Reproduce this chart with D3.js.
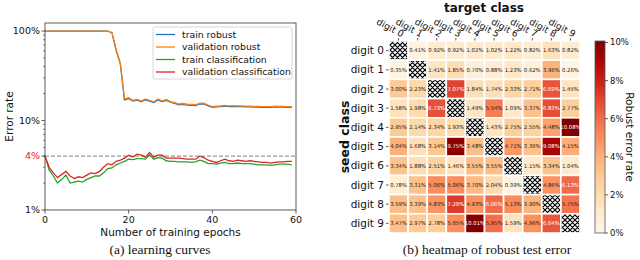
<!DOCTYPE html>
<html>
<head>
<meta charset="utf-8">
<script src="https://cdn.jsdelivr.net/npm/d3@7"></script>
<style>
  body { margin: 0; background: #fff; }
  svg { display: block; font-family: "DejaVu Sans", sans-serif; }
</style>
</head>
<body>
<svg id="chart" width="640" height="260"></svg>
<script>
// ---- data: learning curves (error rate, fraction) ----
const epochs = d3.range(0, 60);
const valRobust = [1,1,1,1,1,1,1,1,1,1,1,1,1,1,1,1,0.96,0.62,0.44,0.175,
  0.18,0.168,0.172,0.166,0.174,0.168,0.162,0.174,0.166,0.172,
  0.163,0.158,0.153,0.155,0.152,0.151,0.15,0.156,0.156,0.149,
  0.143,0.145,0.146,0.148,0.146,0.147,0.146,0.146,0.145,0.145,
  0.144,0.144,0.143,0.143,0.143,0.145,0.144,0.144,0.143,0.143];
const trainRobust = [1,1,1,1,1,1,1,1,1,1,1,1,1,1,1,1,0.96,0.61,0.43,0.17,
  0.176,0.165,0.169,0.163,0.17,0.165,0.159,0.17,0.163,0.168,
  0.16,0.155,0.15,0.152,0.149,0.148,0.147,0.153,0.153,0.146,
  0.14,0.142,0.143,0.145,0.143,0.144,0.143,0.143,0.142,0.142,
  0.141,0.141,0.14,0.14,0.14,0.142,0.141,0.141,0.14,0.14];
const valClass = [4.0,3.0,2.6,2.3,2.5,2.7,2.4,2.25,2.35,2.3,
  2.45,2.6,2.55,2.7,3.0,3.3,3.2,3.5,3.6,3.8,
  4.1,3.9,4.2,4.1,3.9,4.4,3.9,4.1,4.1,3.8,
  3.8,3.8,3.8,3.75,3.7,3.7,3.7,4.0,3.85,3.6,
  3.5,3.4,3.55,3.7,3.55,3.5,3.6,3.55,3.5,3.55,
  3.5,3.45,3.4,3.4,3.35,3.4,3.45,3.45,3.5,3.5].map(v => v / 100);
const trainClass = [4.0,2.8,2.4,2.0,2.2,2.45,2.0,2.05,2.1,2.05,
  2.2,2.3,2.4,2.4,2.6,2.9,2.95,3.2,3.35,3.5,
  3.7,3.65,3.75,3.75,3.7,4.15,3.7,3.85,3.8,3.55,
  3.5,3.5,3.45,3.45,3.45,3.4,3.45,3.6,3.5,3.3,
  3.3,3.25,3.35,3.4,3.3,3.3,3.35,3.3,3.3,3.3,
  3.25,3.2,3.2,3.2,3.15,3.2,3.25,3.25,3.25,3.2].map(v => v / 100);

const seriesNames = ["train robust", "validation robust", "train classification", "validation classification"];
const seriesColors = ["#1f77b4", "#ff7f0e", "#2ca02c", "#d62728"];

// ---- data: heatmap (robust test error, %) ----
const digits = ["digit 0","digit 1","digit 2","digit 3","digit 4","digit 5","digit 6","digit 7","digit 8","digit 9"];
const errMatrix = [
  [null,0.41,0.92,0.92,1.02,1.02,1.22,0.82,1.63,0.82],
  [0.35,null,1.41,1.85,0.70,0.88,1.23,0.62,3.96,0.26],
  [3.00,2.23,null,7.07,1.84,1.74,2.33,2.71,6.69,1.45],
  [1.58,1.98,6.73,null,1.49,5.54,1.09,3.37,6.83,2.77],
  [2.95,2.14,2.34,1.93,null,1.43,2.75,2.55,4.48,10.08],
  [4.04,1.68,3.14,9.75,3.48,null,4.71,3.36,9.08,4.15],
  [3.34,1.88,2.51,1.46,3.55,3.55,null,1.15,3.34,1.04],
  [0.78,3.31,5.06,5.06,3.70,2.04,0.39,null,4.86,6.13],
  [3.59,3.39,4.83,7.29,4.93,6.06,5.13,3.90,null,5.75],
  [3.47,2.97,2.78,5.05,10.01,5.95,1.59,4.96,6.64,null]
];
const cbarTicks = [0, 2, 4, 6, 8, 10];

const svg = d3.select("#chart");

// hatch pattern for diagonal cells
const defs = svg.append("defs");
const pat = defs.append("pattern")
  .attr("id", "hatch").attr("patternUnits", "userSpaceOnUse")
  .attr("width", 5).attr("height", 5);
pat.append("rect").attr("width", 5).attr("height", 5).attr("fill", "#fff");
pat.append("path").attr("d", "M0,0L5,5M5,0L0,5M-1,4L1,6M4,-1L6,1M-1,1L1,-1M4,6L6,4")
  .attr("stroke", "#000").attr("stroke-width", 1.2);

// ================= (a) learning curves =================
function drawCurves() {
  const area = { left: 45, right: 296, top: 23, bottom: 210 };
  const x = d3.scaleLinear().domain([0, 60]).range([area.left, area.right]);
  const y = d3.scaleLog().domain([0.01, 1.23]).range([area.bottom, area.top]);

  const g = svg.append("g");

  // dashed 4% line
  g.append("line")
    .attr("x1", area.left).attr("x2", area.right)
    .attr("y1", y(0.04)).attr("y2", y(0.04))
    .attr("stroke", "#999").attr("stroke-width", 1.1).attr("stroke-dasharray", "4,2");

  const line = vals => d3.line().x((d, i) => x(epochs[i])).y(d => y(d))(vals);
  const data = [trainRobust, valRobust, trainClass, valClass];
  // classification first, robust later; validation over train
  [2, 3, 0, 1].forEach(k => {
    g.append("path").attr("d", line(data[k]))
      .attr("fill", "none").attr("stroke", seriesColors[k]).attr("stroke-width", 1.3);
  });

  // frame
  g.append("rect").attr("x", area.left).attr("y", area.top)
    .attr("width", area.right - area.left).attr("height", area.bottom - area.top)
    .attr("fill", "none").attr("stroke", "#333").attr("stroke-width", 0.8);

  // y axis ticks (log, with minor)
  const minor = [];
  [0.01, 0.1, 1].forEach(dec => d3.range(2, 10).forEach(m => { if (dec * m < 1.23) minor.push(dec * m); }));
  g.selectAll(".ymin").data(minor).join("line")
    .attr("x1", area.left - 2).attr("x2", area.left)
    .attr("y1", d => y(d)).attr("y2", d => y(d)).attr("stroke", "#333").attr("stroke-width", 0.6);
  const major = [{ v: 1, t: "100%" }, { v: 0.1, t: "10%" }, { v: 0.01, t: "1%" }, { v: 0.04, t: "4%", c: "#e8231f" }];
  major.forEach(m => {
    g.append("line").attr("x1", area.left - 3.5).attr("x2", area.left)
      .attr("y1", y(m.v)).attr("y2", y(m.v)).attr("stroke", "#333").attr("stroke-width", 0.8);
    g.append("text").attr("x", area.left - 5).attr("y", y(m.v)).attr("dy", "0.35em")
      .attr("text-anchor", "end").attr("font-size", 9.5).attr("fill", m.c || "#111").text(m.t);
  });

  // x axis ticks
  [0, 20, 40, 60].forEach(v => {
    g.append("line").attr("x1", x(v)).attr("x2", x(v))
      .attr("y1", area.bottom).attr("y2", area.bottom + 3.5).attr("stroke", "#333").attr("stroke-width", 0.8);
    g.append("text").attr("x", x(v)).attr("y", area.bottom + 13)
      .attr("text-anchor", "middle").attr("font-size", 9.5).attr("fill", "#111").text(v);
  });

  g.append("text").attr("x", (area.left + area.right) / 2).attr("y", 236)
    .attr("text-anchor", "middle").attr("font-size", 10.5).attr("fill", "#111")
    .text("Number of training epochs");
  g.append("text").attr("transform", `translate(13,${(area.top + area.bottom) / 2}) rotate(-90)`)
    .attr("text-anchor", "middle").attr("font-size", 10.5).attr("fill", "#111").text("Error rate");

  // legend
  const lg = g.append("g").attr("transform", "translate(153,27)");
  lg.append("rect").attr("width", 139).attr("height", 52).attr("rx", 2)
    .attr("fill", "#fff").attr("fill-opacity", 0.85).attr("stroke", "#ccc").attr("stroke-width", 0.8);
  seriesNames.forEach((n, i) => {
    const yy = 7.5 + i * 12.5;
    lg.append("line").attr("x1", 3).attr("x2", 22).attr("y1", yy).attr("y2", yy)
      .attr("stroke", seriesColors[i]).attr("stroke-width", 1.3);
    lg.append("text").attr("x", 29).attr("y", yy).attr("dy", "0.35em")
      .attr("font-size", 9.3).attr("fill", "#111").text(n);
  });

  g.append("text").attr("x", 160).attr("y", 254).attr("text-anchor", "middle")
    .attr("font-family", "'Liberation Serif', serif").attr("font-size", 13.5).attr("fill", "#111")
    .text("(a)  learning curves");
}

// ================= (b) heatmap =================
function drawHeatmap() {
  const area = { left: 389, right: 580, top: 41, bottom: 233 };
  const x = d3.scaleBand().domain(d3.range(10)).range([area.left, area.right]);
  const y = d3.scaleBand().domain(d3.range(10)).range([area.top, area.bottom]);
  const vmax = 10.08;
  const color = v => d3.interpolateOrRd(v / vmax);

  const g = svg.append("g");
  const cells = [];
  errMatrix.forEach((row, r) => row.forEach((v, c) => cells.push({ r, c, v })));

  g.selectAll(".cell").data(cells).join("rect")
    .attr("x", d => x(d.c)).attr("y", d => y(d.r))
    .attr("width", x.bandwidth()).attr("height", y.bandwidth())
    .attr("fill", d => d.v === null ? "url(#hatch)" : color(d.v))
    .attr("stroke", "#fff").attr("stroke-width", 1.6);

  g.selectAll(".val").data(cells.filter(d => d.v !== null)).join("text")
    .attr("x", d => x(d.c) + x.bandwidth() / 2).attr("y", d => y(d.r) + y.bandwidth() / 2)
    .attr("dy", "0.35em").attr("text-anchor", "middle").attr("font-size", 5.3)
    .attr("fill", d => d.v > 6 ? "#fff" : "#222")
    .text(d => d.v.toFixed(2) + "%");

  // row labels + ticks
  digits.forEach((dg, i) => {
    const cy = y(i) + y.bandwidth() / 2;
    g.append("line").attr("x1", area.left - 3).attr("x2", area.left - 0.5)
      .attr("y1", cy).attr("y2", cy).attr("stroke", "#333").attr("stroke-width", 0.8);
    g.append("text").attr("x", area.left - 5).attr("y", cy).attr("dy", "0.35em")
      .attr("text-anchor", "end").attr("font-size", 10.5).attr("fill", "#111").text(dg);
  });
  // column labels + ticks
  digits.forEach((dg, i) => {
    const cx = x(i) + x.bandwidth() / 2;
    g.append("line").attr("x1", cx).attr("x2", cx).attr("y1", area.top - 3).attr("y2", area.top - 0.5)
      .attr("stroke", "#333").attr("stroke-width", 0.8);
    g.append("text").attr("transform", `translate(${cx + 3},${area.top - 3.5}) rotate(28)`)
      .attr("text-anchor", "end").attr("font-size", 9.2).attr("fill", "#111").text(dg);
  });

  g.append("text").attr("x", 484).attr("y", 11.5).attr("text-anchor", "middle")
    .attr("font-size", 12).attr("font-weight", "bold").attr("fill", "#111").text("target class");
  g.append("text").attr("transform", `translate(349,${(area.top + area.bottom) / 2}) rotate(-90)`)
    .attr("text-anchor", "middle").attr("font-size", 12.5).attr("font-weight", "bold")
    .attr("fill", "#111").text("seed class");

  // colorbar
  const cb = { x: 595, w: 10, top: 41, bottom: 233 };
  const cy = d3.scaleLinear().domain([0, vmax]).range([cb.bottom, cb.top]);
  const grad = defs.append("linearGradient").attr("id", "cbgrad")
    .attr("x1", 0).attr("x2", 0).attr("y1", 1).attr("y2", 0);
  d3.range(0, 1.0001, 0.1).forEach(t => {
    grad.append("stop").attr("offset", t).attr("stop-color", d3.interpolateOrRd(t));
  });
  g.append("rect").attr("x", cb.x).attr("y", cb.top).attr("width", cb.w).attr("height", cb.bottom - cb.top)
    .attr("fill", "url(#cbgrad)").attr("stroke", "#555").attr("stroke-width", 0.8);
  cbarTicks.forEach(t => {
    g.append("line").attr("x1", cb.x + cb.w).attr("x2", cb.x + cb.w + 3)
      .attr("y1", cy(t)).attr("y2", cy(t)).attr("stroke", "#333").attr("stroke-width", 0.8);
    g.append("text").attr("x", cb.x + cb.w + 5).attr("y", cy(t)).attr("dy", "0.35em")
      .attr("font-size", 8.5).attr("fill", "#111").text(t + "%");
  });
  g.append("text").attr("transform", `translate(626,${(cb.top + cb.bottom) / 2}) rotate(90)`)
    .attr("text-anchor", "middle").attr("font-size", 10.5).attr("fill", "#111").text("Robust error rate");

  g.append("text").attr("x", 487).attr("y", 254).attr("text-anchor", "middle")
    .attr("font-family", "'Liberation Serif', serif").attr("font-size", 13.5).attr("fill", "#111")
    .text("(b)  heatmap of robust test error");
}

drawCurves();
drawHeatmap();
</script>
</body>
</html>
